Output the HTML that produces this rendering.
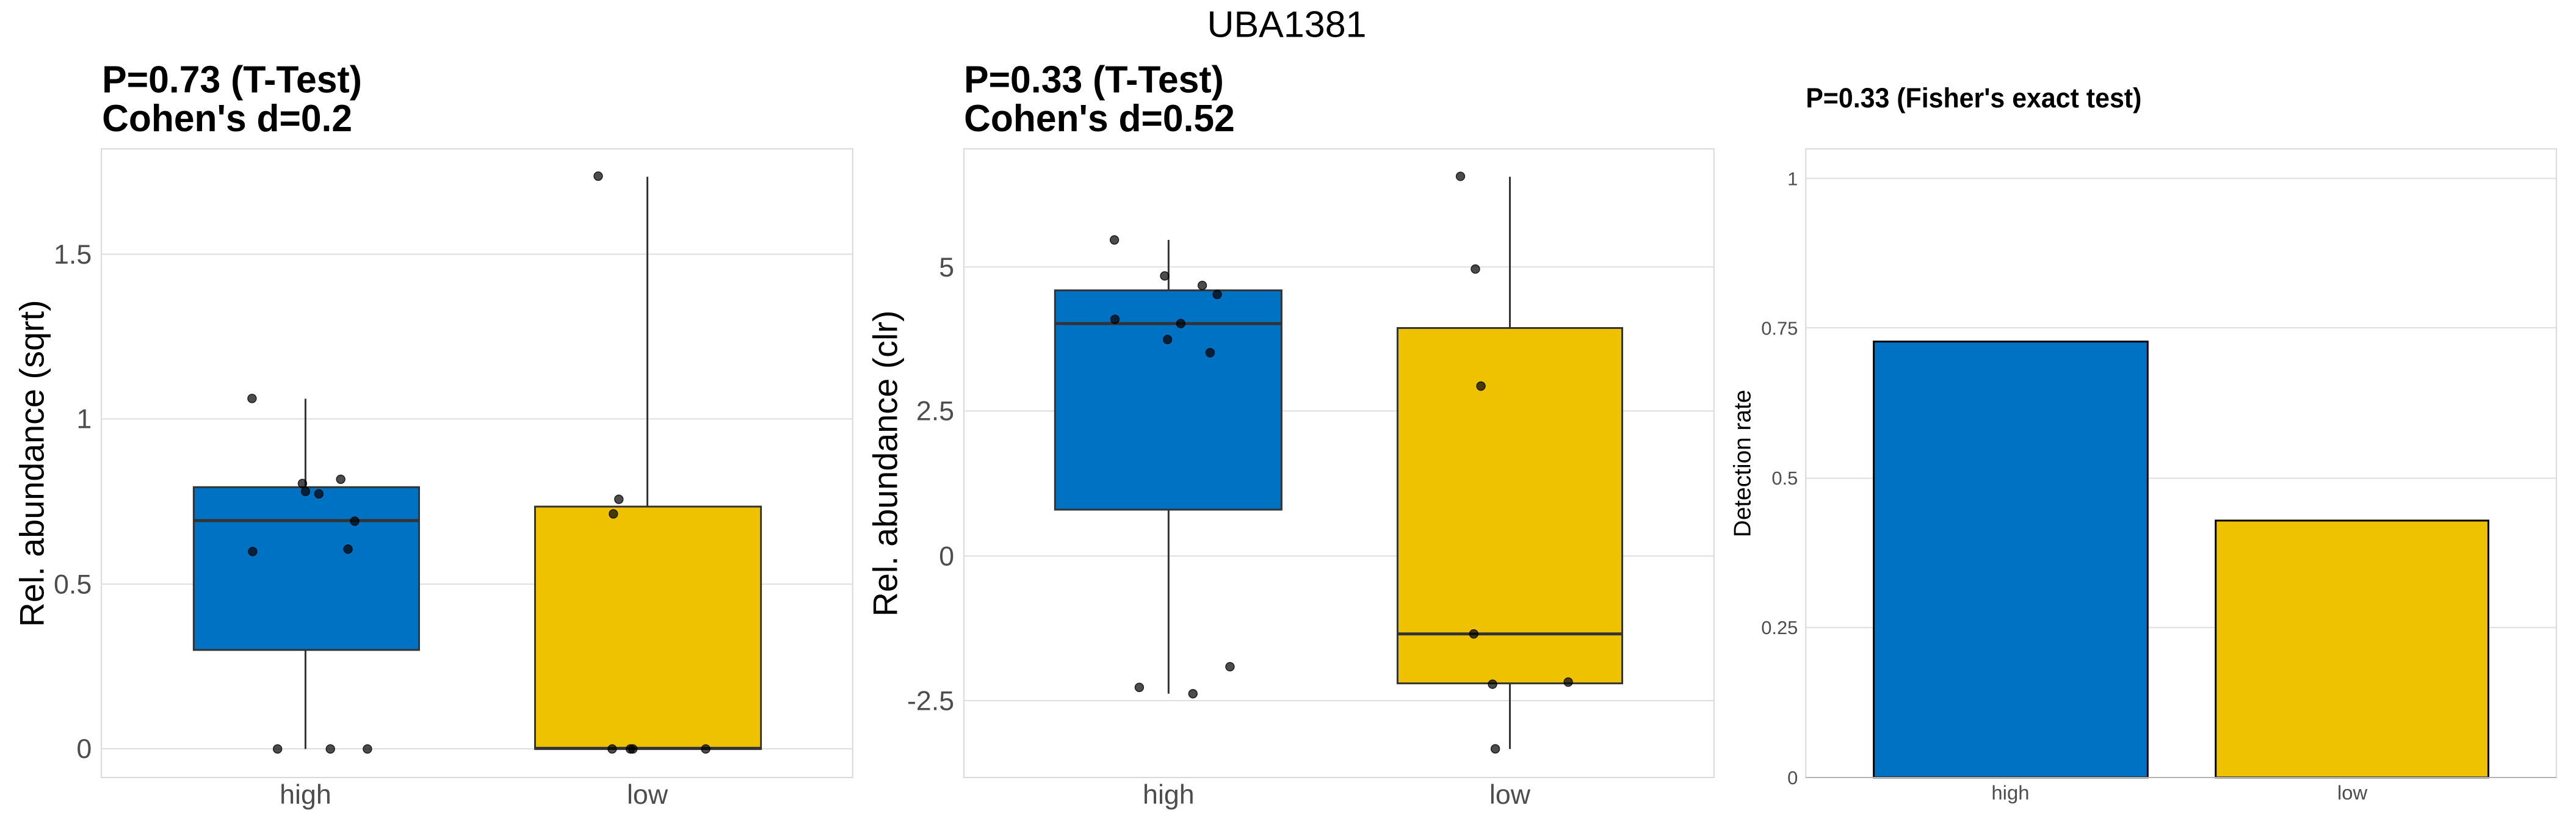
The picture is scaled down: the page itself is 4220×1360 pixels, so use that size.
<!DOCTYPE html>
<html><head><meta charset="utf-8"><style>
html,body{margin:0;padding:0;background:#fff;}
svg{display:block;font-family:"Liberation Sans",Arial,sans-serif;}
</style></head><body>
<svg width="4220" height="1360" viewBox="0 0 4220 1360" xmlns="http://www.w3.org/2000/svg">
<rect width="4220" height="1360" fill="#fff"/>
<g transform="scale(1,0.9953)">
<text x="2108" y="61" font-size="61" text-anchor="middle" fill="#000">UBA1381</text>

<!-- Panel 1 -->
<g transform="matrix(0.9949,0,0,1,0,0)">
<text x="168" y="152" font-size="62" font-weight="bold" textLength="428" lengthAdjust="spacingAndGlyphs">P=0.73 (T-Test)</text>
<text x="168" y="216" font-size="62" font-weight="bold" textLength="412" lengthAdjust="spacingAndGlyphs">Cohen's d=0.2</text>
<rect x="167" y="245" width="1237" height="1035" fill="none" stroke="#d9d9d9" stroke-width="2"/>
<g stroke="#dedede" stroke-width="2">
<line x1="167" x2="1404" y1="418.5" y2="418.5"/><line x1="167" x2="1404" y1="689.6" y2="689.6"/>
<line x1="167" x2="1404" y1="961.6" y2="961.6"/><line x1="167" x2="1404" y1="1232.8" y2="1232.8"/>
</g>
<g font-size="45" fill="#4d4d4d" text-anchor="end">
<text x="151" y="434">1.5</text><text x="151" y="705">1</text><text x="151" y="977">0.5</text><text x="151" y="1248">0</text>
</g>
<g font-size="45" fill="#4d4d4d" text-anchor="middle"><text x="503" y="1323">high</text><text x="1066" y="1323">low</text></g>
<text transform="translate(72,763) rotate(-90)" font-size="56" text-anchor="middle" fill="#000">Rel. abundance (sqrt)</text>
<g stroke="#333" stroke-width="3">
<line x1="503" x2="503" y1="656.5" y2="802"/><line x1="503" x2="503" y1="1070" y2="1233"/>
<rect x="319" y="802" width="371" height="268" fill="#0072c4"/>
<line x1="319" x2="690" y1="857" y2="857" stroke-width="5"/>
<line x1="1066" x2="1066" y1="291" y2="834"/>
<rect x="881" y="834" width="372" height="399" fill="#eec200"/>
<line x1="881" x2="1253" y1="1232" y2="1232" stroke-width="5"/>
</g>
<g fill="#000" fill-opacity="0.7" stroke="#000" stroke-opacity="0.8" stroke-width="1.5">
<circle cx="415" cy="656" r="7"/><circle cx="498" cy="796" r="7"/><circle cx="503" cy="809" r="7"/><circle cx="525" cy="813" r="7"/><circle cx="561" cy="789" r="7"/><circle cx="584" cy="858" r="7"/><circle cx="573" cy="904" r="7"/><circle cx="416" cy="908" r="7"/><circle cx="457" cy="1233" r="7"/><circle cx="544" cy="1233" r="7"/><circle cx="605" cy="1233" r="7"/>
<circle cx="985" cy="290" r="7"/><circle cx="1019" cy="822" r="7"/><circle cx="1010" cy="846" r="7"/><circle cx="1008" cy="1233" r="7"/><circle cx="1038" cy="1233" r="7"/><circle cx="1042" cy="1233" r="7"/><circle cx="1162" cy="1233" r="7"/>
</g>
</g>

<!-- Panel 2 -->
<g transform="matrix(0.9949,0,0,1,7.14,0)">
<text x="1580" y="152" font-size="62" font-weight="bold" textLength="428" lengthAdjust="spacingAndGlyphs">P=0.33 (T-Test)</text>
<text x="1580" y="216" font-size="62" font-weight="bold" textLength="446" lengthAdjust="spacingAndGlyphs">Cohen's d=0.52</text>
<rect x="1580" y="245" width="1235" height="1035" fill="none" stroke="#d9d9d9" stroke-width="2"/>
<g stroke="#dedede" stroke-width="2">
<line x1="1580" x2="2815" y1="439.4" y2="439.4"/><line x1="1580" x2="2815" y1="676.5" y2="676.5"/>
<line x1="1580" x2="2815" y1="915.4" y2="915.4"/><line x1="1580" x2="2815" y1="1153.4" y2="1153.4"/>
</g>
<g font-size="45" fill="#4d4d4d" text-anchor="end">
<text x="1564" y="455">5</text><text x="1564" y="692">2.5</text><text x="1564" y="931">0</text><text x="1564" y="1169">-2.5</text>
</g>
<g font-size="45" fill="#4d4d4d" text-anchor="middle"><text x="1917" y="1323">high</text><text x="2479" y="1323">low</text></g>
<text transform="translate(1470,763) rotate(-90)" font-size="56" text-anchor="middle" fill="#000">Rel. abundance (clr)</text>
<g stroke="#333" stroke-width="3">
<line x1="1917" x2="1917" y1="395" y2="478"/><line x1="1917" x2="1917" y1="839" y2="1142"/>
<rect x="1730" y="478" width="373" height="361" fill="#0072c4"/>
<line x1="1730" x2="2103" y1="532.7" y2="532.7" stroke-width="5"/>
<line x1="2479" x2="2479" y1="291" y2="540"/><line x1="2479" x2="2479" y1="1125" y2="1233"/>
<rect x="2294" y="540" width="370" height="585" fill="#eec200"/>
<line x1="2294" x2="2664" y1="1043.6" y2="1043.6" stroke-width="5"/>
</g>
<g fill="#000" fill-opacity="0.7" stroke="#000" stroke-opacity="0.8" stroke-width="1.5">
<circle cx="1827.8" cy="395" r="7"/><circle cx="1910.6" cy="454.2" r="7"/><circle cx="1972.5" cy="469.9" r="7"/><circle cx="1997.1" cy="484.7" r="7"/><circle cx="1828.7" cy="525.7" r="7"/><circle cx="1937" cy="532.7" r="7"/><circle cx="1915.2" cy="558.9" r="7"/><circle cx="1985.3" cy="580.6" r="7"/><circle cx="1868.8" cy="1131.6" r="7"/><circle cx="1957.1" cy="1142.1" r="7"/><circle cx="2018.1" cy="1097.6" r="7"/>
<circle cx="2397.6" cy="290.3" r="7"/><circle cx="2422.2" cy="442.9" r="7"/><circle cx="2431.3" cy="635.6" r="7"/><circle cx="2419.5" cy="1043.6" r="7"/><circle cx="2450.4" cy="1126.4" r="7"/><circle cx="2575.1" cy="1122.9" r="7"/><circle cx="2455" cy="1232.8" r="7"/>
</g>
</g>

<!-- Panel 3 -->
<g transform="matrix(0.9949,0,0,1,14.28,0)">
<text x="2959" y="177" font-size="46" font-weight="bold" textLength="553" lengthAdjust="spacingAndGlyphs">P=0.33 (Fisher's exact test)</text>
<rect x="2959" y="245" width="1236" height="1035" fill="none" stroke="#d9d9d9" stroke-width="2"/>
<g stroke="#dedede" stroke-width="2">
<line x1="2959" x2="4195" y1="293.8" y2="293.8"/><line x1="2959" x2="4195" y1="539.7" y2="539.7"/>
<line x1="2959" x2="4195" y1="787.3" y2="787.3"/><line x1="2959" x2="4195" y1="1033.1" y2="1033.1"/>
</g>
<g font-size="31" fill="#4d4d4d" text-anchor="end">
<text x="2946" y="305">1</text><text x="2946" y="551">0.75</text><text x="2946" y="798">0.5</text><text x="2946" y="1044">0.25</text><text x="2946" y="1291">0</text>
</g>
<g font-size="33" fill="#4d4d4d" text-anchor="middle"><text x="3296" y="1316">high</text><text x="3859" y="1316">low</text></g>
<text transform="translate(2868,763) rotate(-90)" font-size="39" text-anchor="middle" fill="#000">Detection rate</text>
<g stroke="#000" stroke-width="3">
<rect x="3071" y="562.3" width="451" height="717.6" fill="#0072c4"/>
<rect x="3634" y="857" width="449" height="422.9" fill="#eec200"/>
</g>
<line x1="2959" x2="4195" y1="1280" y2="1280" stroke="#b3b3b3" stroke-width="2"/>
</g>
</g>
</svg>
</body></html>
